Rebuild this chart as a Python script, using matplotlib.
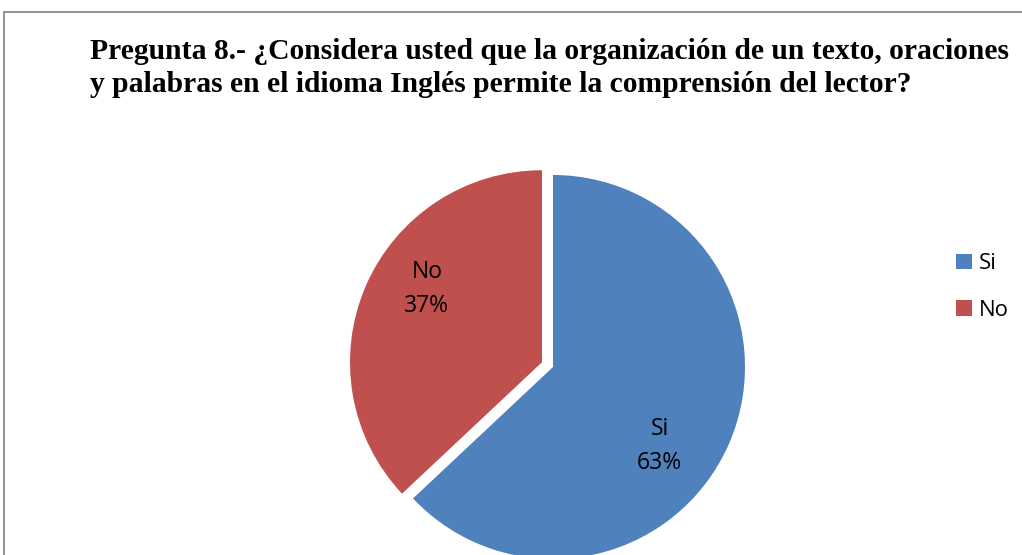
import numpy as np
import matplotlib
matplotlib.use('Agg')
from matplotlib import pyplot as plt
from matplotlib.patches import Rectangle

labels = ['Si', 'No']
values = [63, 37]
colors = ['#4F81BD', '#C0504D']
title = 'Pregunta 8.- ¿Considera usted que la organización de un texto, oraciones\ny palabras en el idioma Inglés permite la comprensión del lector?'

W, H = 1022, 555
fig = plt.figure(figsize=(W / 100, H / 100), dpi=100)
fig.patch.set_facecolor('white')

#chart border (left and top visible, rest runs off the picture)
fig.add_artist(Rectangle((4 / W, -0.1), 1.2, (H - 12) / H + 0.1, transform=fig.transFigure,
                         fill=False, edgecolor='#8a8a8a', linewidth=1.3))

ax = fig.add_axes([0, 0, 1, 1])

# explode is in data units here (not scaled by radius)
wedges, texts = ax.pie(values, colors=colors, startangle=90, counterclock=False,
                       explode=[0, 12], radius=192, center=(553, H - 367),
                       wedgeprops=dict(linewidth=0))
# pie resets the limits, so set them after
ax.set_xlim(0, W)
ax.set_ylim(0, H)
ax.set_aspect('equal')
ax.axis('off')

#data labels, placed a bit clockwise from mid angle like Excel does
for w, lab, v, rot, dist in zip(wedges, labels, values, [-13, -9], [0.69, 0.71]):
    ang = np.deg2rad((w.theta1 + w.theta2) / 2 + rot)
    cx, cy = w.center
    ax.text(cx + dist * w.r * np.cos(ang), cy + dist * w.r * np.sin(ang),
            lab + '\n' + str(v) + '%', ha='center', va='center', fontsize=16.5,
            family='Open Sans', linespacing=1.55, color='black')

fig.text(90 / W, 1 - 38 / H, title, ha='left', va='top', fontsize=21.3, fontweight='bold',
         family='Liberation Serif', linespacing=1.28)

leg = ax.legend(wedges, labels, loc='center left', bbox_to_anchor=(936 / W, 1 - 287 / H),
                frameon=False, prop={'family': 'Open Sans', 'size': 16},
                handlelength=0.72, handleheight=0.72, handletextpad=0.3, labelspacing=1.15)

plt.savefig('out.png', dpi=100)
